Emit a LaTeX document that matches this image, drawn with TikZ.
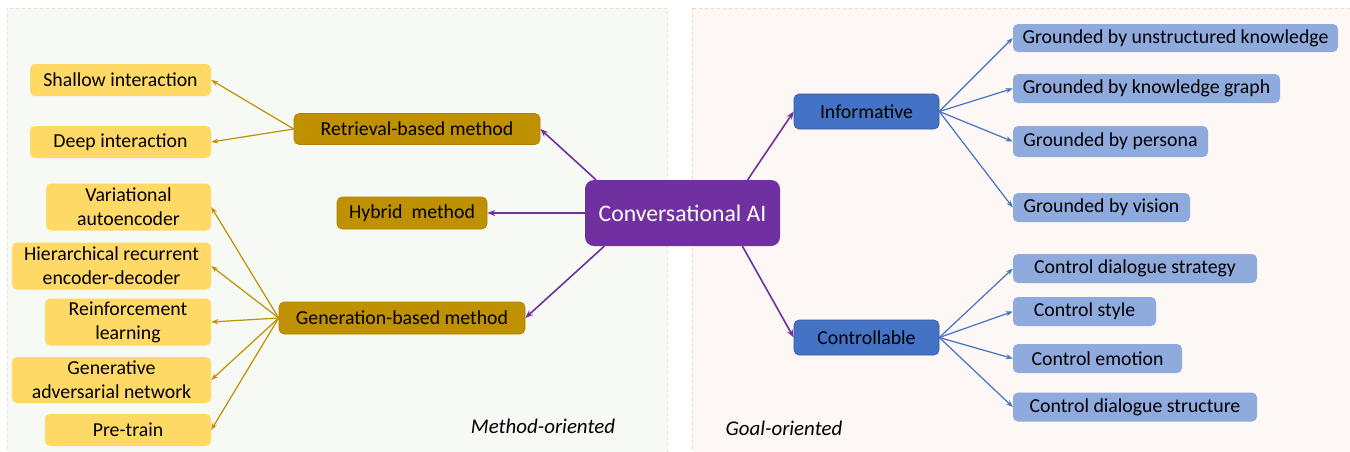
\documentclass[tikz,border=0pt]{standalone}
\usepackage{fontspec}
\setmainfont{Carlito}
\usetikzlibrary{arrows.meta}
\definecolor{ly}{HTML}{FFD966}
\definecolor{dg}{HTML}{BF9000}
\definecolor{pu}{HTML}{7030A0}
\definecolor{bl}{HTML}{4472C4}
\definecolor{lb}{HTML}{8FAADC}
\definecolor{lbg}{HTML}{F7F9F4}
\definecolor{rbg}{HTML}{FDF8F6}
\definecolor{lbd}{HTML}{DCE8D4}
\definecolor{rbd}{HTML}{F8D3BE}
\tikzset{
  box/.style={rectangle, rounded corners=5pt, inner sep=0pt, align=center, font=\fontsize{19.8}{24}\selectfont, text=black},
  yb/.style={box, fill=ly},
  gb/.style={box, fill=dg, draw=dg!90!black, line width=0.6pt},
  bb/.style={box, fill=bl, draw=bl!80!black, line width=0.6pt},
  lbb/.style={box, fill=lb},
  ga/.style={draw=dg, line width=1.2pt, -{Stealth[length=7pt,width=5pt]}},
  pa/.style={draw=pu, line width=1.6pt, -{Stealth[length=8pt,width=6pt]}},
  ba/.style={draw=bl, line width=1.2pt, -{Stealth[length=7pt,width=5pt]}},
}
\begin{document}
\begin{tikzpicture}[x=1pt,y=-1pt]
\useasboundingbox (0,0) rectangle (1350,451);
\fill[white] (0,0) rectangle (1350,451);
% panels
\draw[fill=lbg, draw=lbd, dashed, line width=0.8pt] (7,8) rectangle (667,455);
\draw[fill=rbg, draw=rbd, dashed, line width=0.8pt] (692,8) rectangle (1354,455);
\node[font=\fontsize{20.9}{24}\selectfont\itshape] (mo) at (543,426) {Method-oriented};
\node[font=\fontsize{20.9}{24}\selectfont\itshape] (go) at (784,428) {Goal-oriented};
% center
\node[box, fill=pu, text=white, minimum width=195pt, minimum height=66pt, rounded corners=9pt, font=\fontsize{23.7}{28}\selectfont] (conv) at (682.5,213) {Conversational AI};
% left
\node[gb, minimum width=246pt, minimum height=31pt] (ret) at (417,129) {Retrieval-based method};
\node[gb, minimum width=150pt, minimum height=32pt] (hyb) at (412,213) {Hybrid\ \ method};
\node[gb, minimum width=246pt, minimum height=32pt] (gen) at (402,318) {Generation-based method};
\node[yb, minimum width=181pt, minimum height=32pt] (sha) at (120.5,80) {Shallow interaction};
\node[yb, minimum width=181pt, minimum height=32pt] (dee) at (120.5,142) {Deep interaction};
\node[yb, minimum width=165pt, minimum height=47pt] (vae) at (128.5,207) {Variational\\autoencoder};
\node[yb, minimum width=199pt, minimum height=47pt] (hre) at (111.5,266) {Hierarchical recurrent\\encoder-decoder};
\node[yb, minimum width=166pt, minimum height=47pt] (rl) at (128,322) {Reinforcement\\learning};
\node[yb, minimum width=199pt, minimum height=46pt] (gan) at (111.5,380) {Generative\\adversarial network};
\node[yb, minimum width=166pt, minimum height=32pt] (pt) at (128,430) {Pre-train};
% right
\node[bb, minimum width=145pt, minimum height=35pt] (inf) at (866.5,111.5) {Informative};
\node[bb, minimum width=145pt, minimum height=35pt] (ctl) at (866.5,337.5) {Controllable};
\node[lbb, minimum width=325pt, minimum height=28pt] (g1) at (1175.5,38) {Grounded by unstructured knowledge};
\node[lbb, minimum width=267pt, minimum height=29pt] (g2) at (1146.5,88.5) {Grounded by knowledge graph};
\node[lbb, minimum width=195pt, minimum height=31pt] (g3) at (1110.5,141.5) {Grounded by persona};
\node[lbb, minimum width=177pt, minimum height=29pt] (g4) at (1101.5,207.5) {Grounded by vision};
\node[lbb, minimum width=244pt, minimum height=29pt] (c1) at (1135,268.5) {Control dialogue strategy};
\node[lbb, minimum width=143pt, minimum height=29pt] (c2) at (1084.5,311.5) {Control style};
\node[lbb, minimum width=169pt, minimum height=29pt] (c3) at (1097.5,358.5) {Control emotion};
\node[lbb, minimum width=244pt, minimum height=29pt] (c4) at (1135,407) {Control dialogue structure};
% arrows
\draw[pa] (conv.159) -- (ret.east);
\draw[pa] (conv.west) -- (hyb.east);
\draw[pa] (conv.203) -- (gen.east);
\draw[pa] (conv.27) -- (inf.west);
\draw[pa] (conv.331) -- (ctl.west);
\foreach \t in {sha,dee} \draw[ga] (ret.west) -- (\t.east);
\foreach \t in {vae,hre,rl,gan,pt} \draw[ga] (gen.west) -- (\t.east);
\foreach \t in {g1,g2,g3,g4} \draw[ba] (inf.east) -- (\t.west);
\foreach \t in {c1,c2,c3,c4} \draw[ba] (ctl.east) -- (\t.west);
\end{tikzpicture}
\end{document}
